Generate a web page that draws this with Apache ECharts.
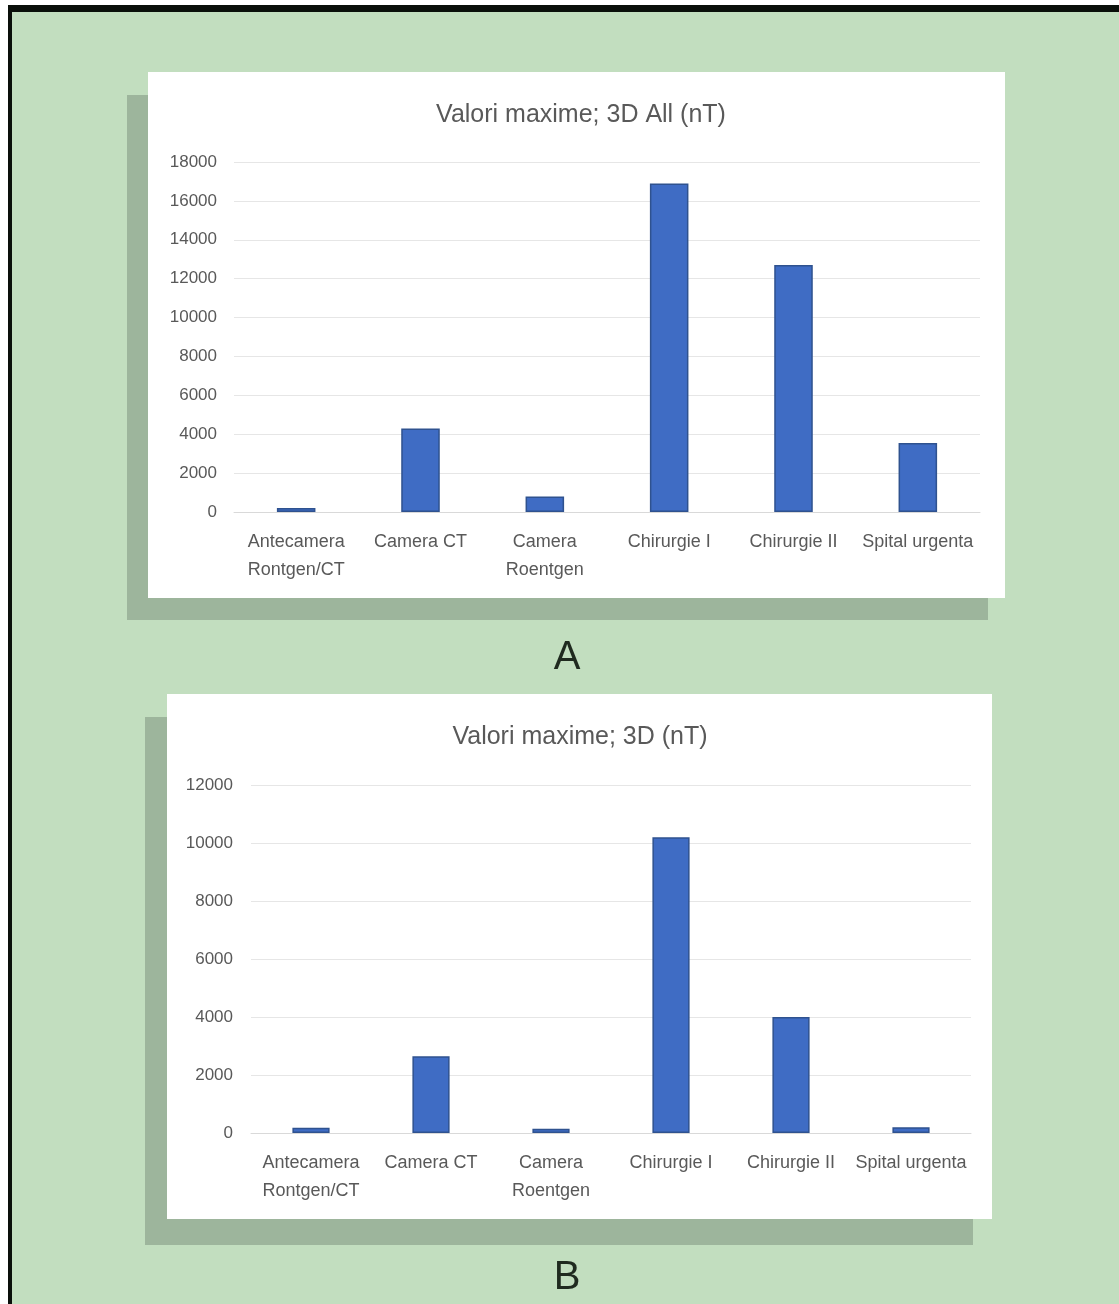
<!DOCTYPE html>
<html>
<head>
<meta charset="utf-8">
<title>Valori maxime</title>
<script src="https://cdn.jsdelivr.net/npm/echarts@6/dist/echarts.min.js"></script>
<style>
  html, body { margin: 0; padding: 0; background: #fff; }
  #page { position: relative; width: 1119px; height: 1304px; overflow: hidden; }
  .frame { position: absolute; left: 8px; top: 5px; right: 0; bottom: 0;
           background: #c2debf; border-top: 7px solid #0a0f0a; border-left: 4px solid #0a0f0a; }
  .shadow { position: absolute; background: #9db59c; }
  .panel { position: absolute; background: #fff; }
  #chart { position: absolute; left: 0; top: 0; width: 1119px; height: 1304px; }
</style>
</head>
<body>
<div id="page">
  <div class="frame"></div>
  <div class="shadow" style="left:127px;top:95px;width:861px;height:525px;"></div>
  <div class="panel" style="left:148px;top:72px;width:857px;height:526px;"></div>
  <div class="shadow" style="left:145px;top:717px;width:828px;height:528px;"></div>
  <div class="panel" style="left:167px;top:694px;width:825px;height:525px;"></div>
  <div id="chart"></div>
</div>
<script>
const categories = ['Antecamera\nRontgen/CT', 'Camera CT', 'Camera\nRoentgen', 'Chirurgie I', 'Chirurgie II', 'Spital urgenta']
// A: Valori maxime; 3D All (nT)
const valuesAll = [200, 4300, 800, 16900, 12700, 3550]
// B: Valori maxime; 3D (nT)
const values3D = [180, 2650, 150, 10200, 4000, 200]
const ticksA = { min: 0, max: 18000, interval: 2000 }
const ticksB = { min: 0, max: 12000, interval: 2000 }

const labelFont = 'Liberation Sans, Arial, sans-serif'
const textGray = '#595959'

function xAxisFor(gridIndex) {
  return {
    type: 'category',
    gridIndex: gridIndex,
    data: categories,
    axisTick: { show: false },
    axisLine: { lineStyle: { color: '#d9d9d9' } },
    axisLabel: {
      interval: 0,
      margin: 16,
      color: textGray,
      fontFamily: labelFont,
      fontSize: 18,
      lineHeight: 28
    }
  }
}

function yAxisFor(gridIndex, ticks, margin) {
  return {
    type: 'value',
    gridIndex: gridIndex,
    min: ticks.min,
    max: ticks.max,
    interval: ticks.interval,
    axisLine: { show: false },
    axisTick: { show: false },
    splitLine: { lineStyle: { color: '#e6e6e6' } },
    axisLabel: {
      margin: margin,
      color: textGray,
      fontFamily: labelFont,
      fontSize: 17,
      formatter: v => String(v)
    }
  }
}

function barSeries(index, data) {
  return {
    type: 'bar',
    xAxisIndex: index,
    yAxisIndex: index,
    barWidth: '31%',
    itemStyle: { color: '#3f6cc4', borderColor: '#2F528F', borderWidth: 1.5 },
    data: data
  }
}

function titleAt(text, x, y, size, color) {
  return {
    text: text,
    left: x,
    top: y - size / 2,
    textAlign: 'center',
    padding: 0,
    textStyle: { fontFamily: labelFont, fontSize: size, lineHeight: size, fontWeight: 'normal', color: color }
  }
}

echarts.init(document.getElementById('chart')).setOption({
  animation: false,
  backgroundColor: 'transparent',
  title: [
    titleAt('Valori maxime; 3D All (nT)', 581, 115, 25, textGray),
    titleAt('Valori maxime; 3D (nT)', 580, 737, 25, textGray),
    titleAt('A', 567, 658, 40, '#1f2a1f'),
    titleAt('B', 567, 1278, 40, '#1f2a1f')
  ],
  grid: [
    { left: 234, right: 139, top: 162, bottom: 792 },
    { left: 251, right: 148, top: 785, bottom: 171 }
  ],
  xAxis: [xAxisFor(0), xAxisFor(1)],
  yAxis: [yAxisFor(0, ticksA, 17), yAxisFor(1, ticksB, 18)],
  series: [barSeries(0, valuesAll), barSeries(1, values3D)]
})
</script>
</body>
</html>
